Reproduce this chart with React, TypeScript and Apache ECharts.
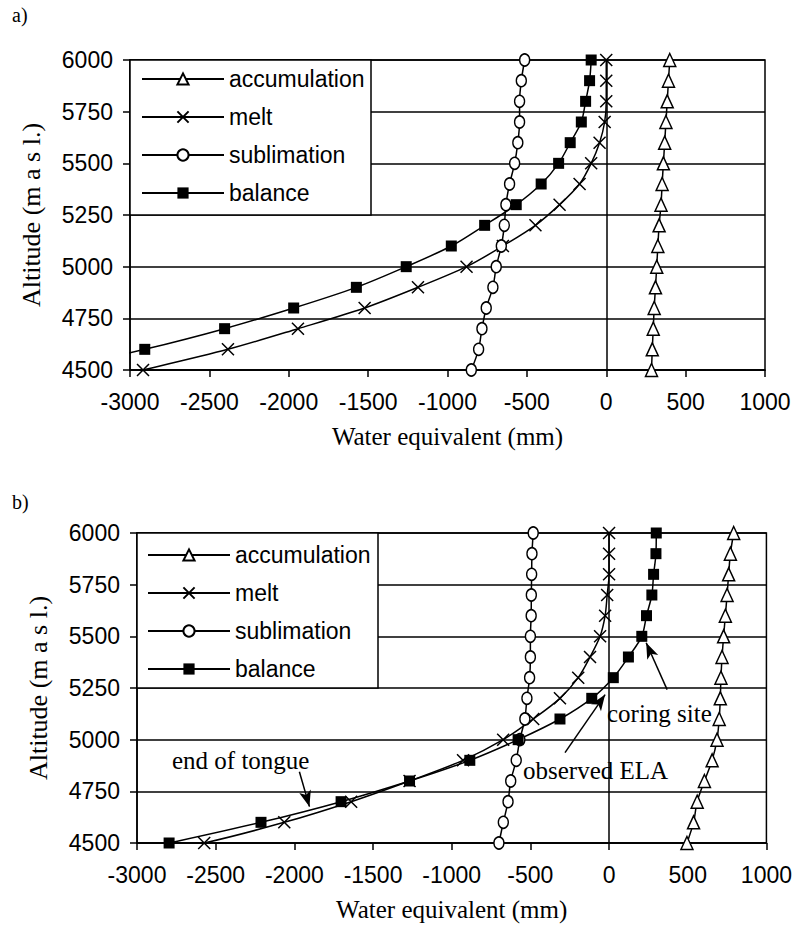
import React, { useEffect, useRef } from "react";
import * as echarts from "echarts";

// Altitudes (m a.s.l.) of the model levels
const altitudes = [4500, 4600, 4700, 4800, 4900, 5000, 5100, 5200, 5300, 5400, 5500, 5600, 5700, 5800, 5900, 6000];

// Panel a) water equivalent (mm)
const accumA = [285, 290, 296, 302, 310, 318, 325, 333, 345, 352, 360, 368, 376, 384, 392, 400];
const meltA = [-2918, -2383, -1942, -1522, -1186, -880, -651, -446, -294, -168, -95, -42, -10, 0, 0, 0];
const sublA = [-850, -804, -783, -756, -714, -693, -661, -642, -632, -609, -577, -557, -546, -546, -535, -514];
const balA = [-3480, -2907, -2404, -1969, -1574, -1260, -976, -766, -567, -410, -300, -227, -157, -130, -105, -95];
// line continuation below the lowest plotted level (off-axis), [value, altitude]
const meltAExt = [-3150, 4460];

// Panel b) water equivalent (mm)
const accumB = [495, 537, 560, 606, 655, 686, 700, 707, 711, 718, 728, 739, 750, 760, 771, 792];
const meltB = [-2573, -2064, -1639, -1268, -928, -673, -482, -312, -196, -121, -57, -25, -12, 0, 0, 0];
const sublB = [-700, -672, -642, -625, -590, -567, -535, -522, -505, -500, -500, -495, -494, -492, -490, -482];
const balB = [-2796, -2212, -1703, -1268, -885, -578, -312, -110, 27, 123, 208, 238, 272, 283, 298, 300];
const meltBExt = [-2850, 4465];
const balBExt = [-3050, 4460];

// Annotation arrows in panel b: [from, to] in data coordinates
const arrowCoring = [[369, 5242], [236, 5469]];
const arrowELA = [[-280, 4937], [-25, 5218]];
const arrowTongue = [[-1968, 4845], [-1904, 4676]];

const seriesNames = ["accumulation", "melt", "sublimation", "balance"];
const xTicks = { min: -3000, max: 1000, interval: 500 };
const yTicks = { min: 4500, max: 6000, interval: 250 };

const SANS = "'Liberation Sans', Arial, Helvetica, sans-serif";
const SERIF = "'Liberation Serif', 'Times New Roman', Times, serif";
const X_PATH = "path://M0,0L12,12M12,0L0,12";

function pairs(vals: number[], ext?: number[] | null, hideFirst?: boolean) {
  const pts: any[] = altitudes.map((h, i) =>
    hideFirst && i === 0 ? { value: [vals[i], h], symbol: "none" } : [vals[i], h]
  );
  if (ext) pts.unshift({ value: [ext[0], ext[1]], symbol: "none" });
  return pts;
}

const lineStyle = { color: "#000", width: 1.5 };

function makeSeries(gi: number, acc: number[], melt: number[], subl: number[], bal: number[], meltExt: number[] | null, balExt: number[] | null, balHideFirst: boolean, extraMarks: any) {
  const common = {
    type: "line",
    xAxisIndex: gi,
    yAxisIndex: gi,
    smooth: 0.3,
    clip: true,
    lineStyle,
    emphasis: { disabled: true },
  };
  return [
    {
      ...common,
      name: "accumulation",
      symbol: "triangle",
      symbolSize: [12, 13],
      itemStyle: { color: "#fff", borderColor: "#000", borderWidth: 1.5 },
      data: pairs(acc),
      markLine: {
        silent: true,
        symbol: "none",
        label: { show: false },
        lineStyle: { color: "#000", width: 1.5, type: "solid" },
        data: [{ xAxis: 0 }],
      },
    },
    {
      ...common,
      name: "melt",
      symbol: X_PATH,
      symbolSize: [12, 12],
      itemStyle: { color: "#000", borderColor: "#000", borderWidth: 1.5 },
      data: pairs(melt, meltExt),
    },
    {
      ...common,
      name: "sublimation",
      symbol: "circle",
      symbolSize: [10, 12],
      itemStyle: { color: "#fff", borderColor: "#000", borderWidth: 1.5 },
      data: pairs(subl),
    },
    {
      ...common,
      name: "balance",
      symbol: "rect",
      symbolSize: 11,
      itemStyle: { color: "#000", borderColor: "#000", borderWidth: 0 },
      data: pairs(bal, balExt, balHideFirst),
      ...(extraMarks ? { markLine: extraMarks } : {}),
    },
  ];
}

export default function App() {
  const ref = useRef<HTMLDivElement>(null);
  useEffect(() => {
    if (!ref.current) return;
    const chart = echarts.init(ref.current, null, { renderer: "svg" });
    const grids = [
      { left: 130, top: 60, width: 635, height: 310 },
      { left: 137, top: 533, width: 630, height: 310 },
    ];
    const arrowMarks = {
      silent: true,
      symbol: ["none", "arrow"],
      symbolSize: [9, 16],
      label: { show: false },
      lineStyle: { color: "#000", width: 1.5, type: "solid" },
      itemStyle: { color: "#000" },
      data: [arrowCoring, arrowELA, arrowTongue].map((a) => [
        { coord: a[0] },
        { coord: a[1] },
      ]),
    };
    const legendCommon = {
      orient: "vertical",
      padding: 0,
      itemWidth: 82,
      itemHeight: 14,
      itemGap: 12,
      selectedMode: false,
      data: seriesNames,
      textStyle: { fontFamily: SANS, fontSize: 23, color: "#000", lineHeight: 26 },
      z: 10,
    };
    const plainNum = (v: number) => String(v);
    const option: any = {
      animation: false,
      backgroundColor: "#fff",
      grid: grids.map((g) => ({ ...g, show: true, borderColor: "#000", borderWidth: 1.5, backgroundColor: "transparent" })),
      xAxis: [0, 1].map((i) => ({
        gridIndex: i,
        type: "value",
        ...xTicks,
        axisLine: { show: true, onZero: false, lineStyle: { color: "#000", width: 1.5 } },
        axisTick: { show: true, inside: false, length: 7, lineStyle: { color: "#000", width: 1.5 } },
        axisLabel: { fontFamily: SANS, fontSize: 23, color: "#000", margin: 20, formatter: plainNum },
        splitLine: { show: false },
        name: "Water equivalent (mm)",
        nameLocation: "middle",
        nameGap: 54,
        nameTextStyle: { fontFamily: SERIF, fontSize: 25, color: "#000" },
      })),
      yAxis: [0, 1].map((i) => ({
        gridIndex: i,
        type: "value",
        ...yTicks,
        axisLine: { show: true, onZero: false, lineStyle: { color: "#000", width: 1.5 } },
        axisTick: { show: true, inside: false, length: 7, lineStyle: { color: "#000", width: 1.5 } },
        axisLabel: { fontFamily: SANS, fontSize: 23, color: "#000", margin: 17, formatter: plainNum },
        splitLine: { show: true, lineStyle: { color: "#000", width: 1.5 } },
        name: "Altitude (m a s l.)",
        nameLocation: "middle",
        nameGap: 86,
        nameTextStyle: { fontFamily: SERIF, fontSize: 26, color: "#000" },
      })),
      legend: [
        { ...legendCommon, left: 141, top: 66 },
        { ...legendCommon, left: 147, top: 542 },
      ],
      series: [
        ...makeSeries(0, accumA, meltA, sublA, balA, meltAExt, null, true, null),
        ...makeSeries(1, accumB, meltB, sublB, balB, meltBExt, balBExt, false, arrowMarks),
      ],
      graphic: [
        { type: "rect", z: 5, shape: { x: 130, y: 60, width: 241, height: 155 }, style: { fill: "#fff", stroke: "#000", lineWidth: 1.5 } },
        { type: "rect", z: 5, shape: { x: 137, y: 533, width: 241, height: 155 }, style: { fill: "#fff", stroke: "#000", lineWidth: 1.5 } },
        { type: "text", z: 6, x: 12, y: 15, style: { text: "a)", font: `20px ${SERIF}`, fill: "#000", verticalAlign: "middle" } },
        { type: "text", z: 6, x: 12, y: 502, style: { text: "b)", font: `20px ${SERIF}`, fill: "#000", verticalAlign: "middle" } },
        { type: "text", z: 6, x: 607, y: 713, style: { text: "coring site", font: `25px ${SERIF}`, fill: "#000", verticalAlign: "middle" } },
        { type: "text", z: 6, x: 523, y: 770, style: { text: "observed ELA", font: `25px ${SERIF}`, fill: "#000", verticalAlign: "middle" } },
        { type: "text", z: 6, x: 172, y: 760, style: { text: "end of tongue", font: `25px ${SERIF}`, fill: "#000", verticalAlign: "middle" } },
      ],
    };
    chart.setOption(option);
    return () => chart.dispose();
  }, []);
  return <div ref={ref} style={{ position: "absolute", left: 0, top: 0, width: 795, height: 927 }} />;
}
